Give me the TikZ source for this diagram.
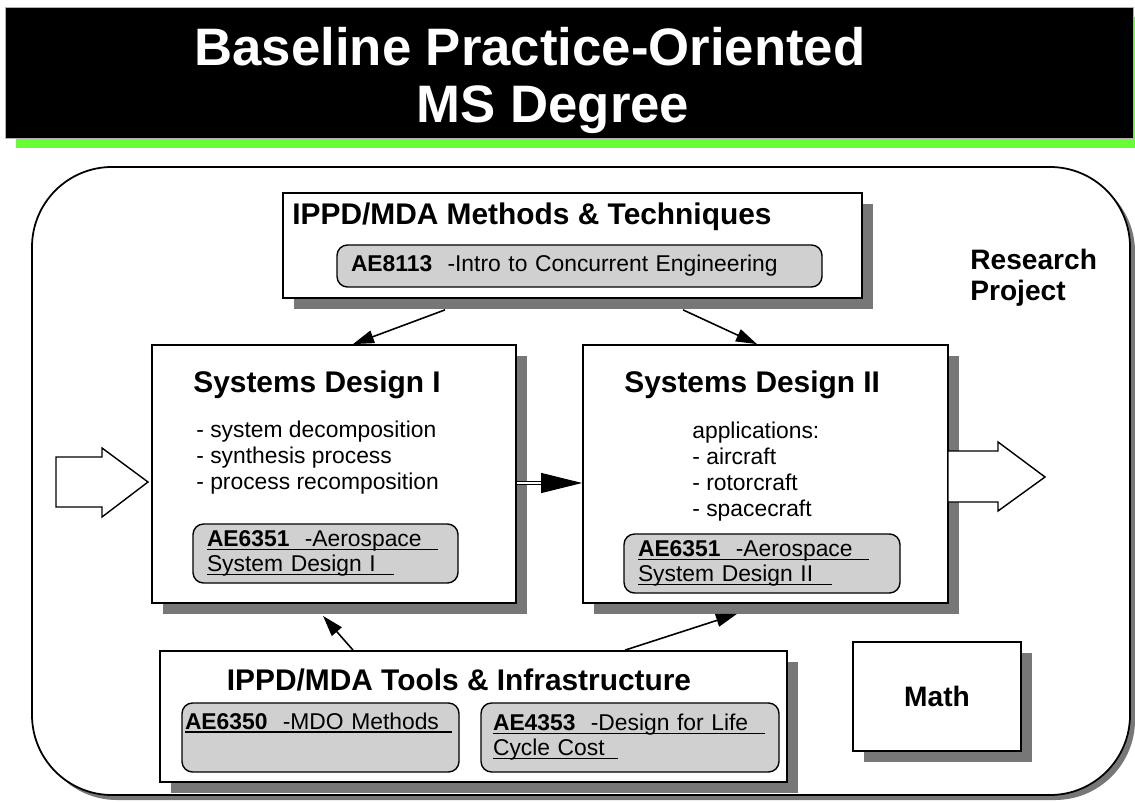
\documentclass[tikz,border=0pt]{standalone}
\usepackage{fontspec}
\setmainfont{Liberation Sans}
\usetikzlibrary{shadows,arrows.meta}
\definecolor{shadowgray}{HTML}{777777}
\definecolor{titlegreen}{HTML}{66FF33}
\definecolor{dotgray}{HTML}{D0D0D0}
\newcommand{\ulbox}[2]{\makebox[#1][l]{#2}\llap{\rule[-1.7pt]{#1}{0.6pt}}}
\tikzset{
  panel/.style={draw, line width=1pt, fill=white,
    drop shadow={shadow xshift=0.22cm, shadow yshift=-0.22cm, fill=shadowgray, opacity=1}},
  course/.style={draw, line width=0.8pt, rounded corners=6pt, fill=dotgray, align=left,
    inner xsep=0.28cm, inner ysep=2pt, font=\fontsize{13}{14.2}\selectfont},
  head/.style={inner sep=0pt, font=\fontsize{17}{20}\selectfont\bfseries},
  body/.style={inner sep=0pt, align=left, font=\fontsize{13}{14.7}\selectfont},
  link/.style={line width=0.9pt, -{Triangle[length=0.42cm,width=0.26cm]}},
  bigarrow/.style={draw, line width=0.8pt, fill=white},
}
\begin{document}
\begin{tikzpicture}
\useasboundingbox (0,0) rectangle (22.7,-16.06);
% title bar
\node[fill=black, draw=gray!60, minimum width=22.56cm, minimum height=2.62cm,
  drop shadow={shadow xshift=0.22cm, shadow yshift=-0.2cm, fill=titlegreen, opacity=1}]
  (titlebar) at (11.38,-1.45) {};
\node[text=white, align=center, inner sep=0pt, font=\fontsize{30}{32.5}\selectfont\bfseries]
  (title) at (11.06,-1.61) {Baseline Practice-Oriented\hspace*{0.92cm}\\MS Degree};

% research project frame
\draw[line width=1pt, rounded corners=1.6cm, fill=white,
  drop shadow={shadow xshift=0.1cm, shadow yshift=-0.1cm, fill=shadowgray, opacity=1}]
  (0.64,-3.34) rectangle (22.6,-15.9);
\node[head, anchor=west, align=left, font=\fontsize{16}{17.6}\selectfont\bfseries]
  (research) at (19.4,-5.55) {Research\\Project};

% methods & techniques
\node[panel, minimum width=11.58cm, minimum height=2.1cm] (methods) at (11.45,-4.91) {};
\node[head, anchor=west] (methodshead) at (5.84,-4.34) {IPPD/MDA Methods \& Techniques};
\node[course, text width=9.14cm, minimum height=0.84cm] (ae8113) at (11.59,-5.32)
  {\textbf{AE8113}\ \ -Intro to Concurrent Engineering};

% systems design I
\node[panel, minimum width=7.28cm, minimum height=5.16cm] (sdone) at (6.68,-9.48) {};
\node[head, anchor=west] (sdonehead) at (3.86,-7.7) {Systems Design I};
\node[body, anchor=north west] (sdonelist) at (3.92,-8.41)
  {- system decomposition\\- synthesis process\\- process recomposition};
\node[course, text width=4.74cm, minimum height=1.18cm] (ae6351a) at (6.51,-11.07)
  {\ulbox{131.5pt}{\textbf{AE6351}\ \ -Aerospace}\\\ulbox{106.6pt}{System Design I}};

% systems design II
\node[panel, minimum width=7.3cm, minimum height=5.16cm] (sdtwo) at (15.31,-9.48) {};
\node[head, anchor=west] (sdtwohead) at (12.48,-7.7) {Systems Design II};
\node[body, anchor=north west] (sdtwolist) at (13.84,-8.44)
  {applications:\\- aircraft\\- rotorcraft\\- spacecraft};
\node[course, text width=4.96cm, minimum height=1.18cm] (ae6351b) at (15.24,-11.27)
  {\ulbox{131.5pt}{\textbf{AE6351}\ \ -Aerospace}\\\ulbox{110.6pt}{System Design II}};

% tools & infrastructure
\node[panel, minimum width=12.54cm, minimum height=2.62cm] (tools) at (9.47,-14.33) {};
\node[head] (toolshead) at (9.18,-13.6) {IPPD/MDA Tools \& Infrastructure};
\node[course, inner xsep=0.06cm, text width=5.42cm, minimum height=1.38cm] (ae6350) at (6.41,-14.75)
  {\ulbox{152pt}{\textbf{AE6350}\ \ -MDO Methods}\\\strut};
\node[course, inner xsep=0.24cm, text width=5.48cm, minimum height=1.38cm] (ae4353) at (12.6,-14.75)
  {\ulbox{155pt}{\textbf{AE4353}\ \ -Design for Life}\\\ulbox{70.9pt}{Cycle Cost}};

% math
\node[panel, minimum width=3.36cm, minimum height=2.18cm, font=\fontsize{16}{19}\selectfont\bfseries]
  (math) at (18.74,-13.93) {Math};

% links
\draw[link] ([xshift=-2.55cm,yshift=-0.22cm]methods.south) -- ([xshift=0.38cm]sdone.north);
\draw[link] ([xshift=2.21cm,yshift=-0.22cm]methods.south) -- ([xshift=-0.17cm]sdtwo.north);
\draw[link] ([xshift=-2.41cm]tools.north) -- ([xshift=-0.22cm,yshift=-0.24cm]sdone.south);
\draw[link] ([xshift=3.03cm]tools.north) -- ([xshift=-0.57cm,yshift=-0.2cm]sdtwo.south);
\draw[double, double distance=1.4pt, line width=0.6pt] ([yshift=-0.18cm]sdone.east) -- ++(0.62,0);
\draw[-{Triangle[length=0.82cm,width=0.4cm]}, line width=0.6pt]
  ([yshift=-0.18cm]sdone.east) ++(0.5,0) -- ([yshift=-0.18cm]sdtwo.west);

% in and out
\draw[bigarrow] (1.12,-9.14) -- (2.04,-9.14) -- (2.04,-8.96) -- (2.96,-9.64)
  -- (2.04,-10.34) -- (2.04,-10.14) -- (1.12,-10.14) -- cycle;
\draw[bigarrow] (18.96,-9.02) -- (19.96,-9.02) -- (19.96,-8.84) -- (20.9,-9.54)
  -- (19.96,-10.22) -- (19.96,-10.04) -- (18.96,-10.04) -- cycle;
\end{tikzpicture}
\end{document}
